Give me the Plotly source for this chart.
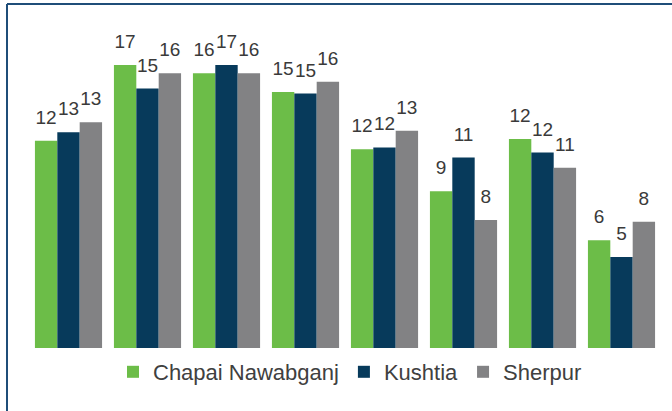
import plotly.graph_objects as go

categories = ["G1", "G2", "G3", "G4", "G5", "G6", "G7", "G8"]
series_names = ["Chapai Nawabganj", "Kushtia", "Sherpur"]
chapai = [12.3, 16.8, 16.3, 15.2, 11.8, 9.3, 12.4, 6.4]
kushtia = [12.8, 15.4, 16.8, 15.1, 11.9, 11.3, 11.6, 5.4]
sherpur = [13.4, 16.3, 16.3, 15.8, 12.9, 7.6, 10.7, 7.5]
colors = ["#6cbd48", "#073a5b", "#828284"]

series = [chapai, kushtia, sherpur]
fig = go.Figure()
for i, (name, vals, col) in enumerate(zip(series_names, series, colors)):
    fig.add_trace(go.Bar(
        x=categories, y=vals, name=name, offsetgroup=str(i),
        marker=dict(color=col, line=dict(width=0)),
        hoverinfo="skip",
    ))
for i, (name, vals) in enumerate(zip(series_names, series)):
    fig.add_trace(go.Scatter(
        x=categories, y=vals, offsetgroup=str(i), mode="markers+text",
        text=[str(int(round(v))) for v in vals], textposition="top center",
        marker=dict(size=18, opacity=0), showlegend=False, hoverinfo="skip",
        textfont=dict(family="Liberation Sans Narrow, Arial Narrow, Liberation Sans", size=19, color="#3a3a3a"),
        cliponaxis=False,
    ))

W, H = 672, 411
L, R, T, B = 29, 11, 11, 0
pw, ph = W - L - R, H - T - B
base_px = 348          # pixel row of the zero line
unit = 16.85           # pixels per unit
ymin = -(H - B - base_px) / unit
ymax = (base_px - T) / unit

def px(x):
    return (x - L) / pw
def py(y):
    return (H - B - y) / ph

border = "#1f4e79"
fig.add_shape(type="line", xref="paper", yref="paper", x0=px(7), x1=px(672), y0=py(4), y1=py(4),
              line=dict(color=border, width=2))
fig.add_shape(type="line", xref="paper", yref="paper", x0=px(7), x1=px(7), y0=py(4), y1=py(411),
              line=dict(color=border, width=2))

fig.update_layout(
    width=W, height=H,
    margin=dict(l=L, r=R, t=T, b=B),
    paper_bgcolor="white", plot_bgcolor="white",
    barmode="group", bargap=0.15, bargroupgap=0,
    scattermode="group", scattergap=0.15,
    xaxis=dict(visible=False),
    yaxis=dict(visible=False, range=[ymin, ymax]),
    showlegend=True,
    legend=dict(orientation="h", x=px(350), xanchor="center", y=py(372), yanchor="middle",
                font=dict(family="Liberation Sans, Arial", size=22, color="#404040"),
                bgcolor="rgba(0,0,0,0)"),
)
fig.write_html("out.html", config={"displayModeBar": False},
               post_script="document.body.style.margin='0';document.body.style.overflow='hidden';")
